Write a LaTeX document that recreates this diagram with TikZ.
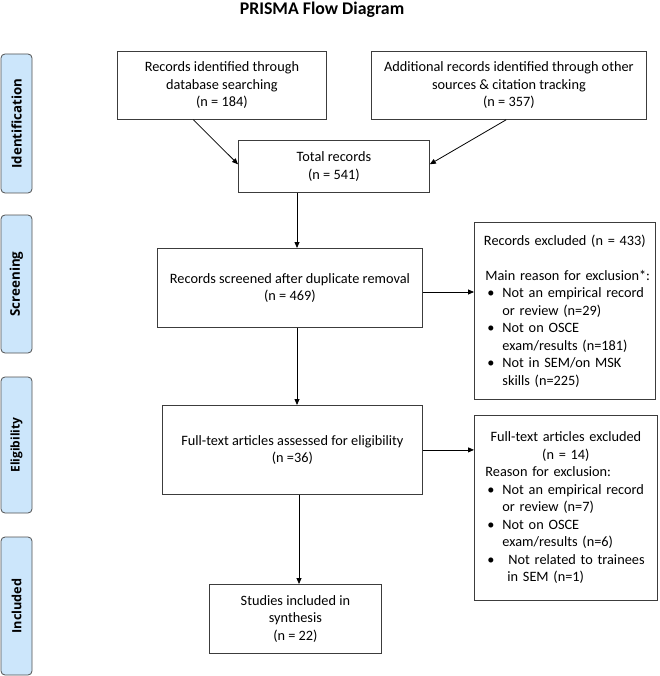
\documentclass[tikz,border=0pt]{standalone}
\usepackage{fontspec}
\setmainfont{Carlito}
\newfontfamily\labfont{Open Sans}
\usetikzlibrary{arrows.meta,calc}
\setlength\parindent{0pt}
\setlength\parskip{0pt}
\definecolor{barfill}{RGB}{204,230,251}
\definecolor{barline}{RGB}{80,80,80}
\definecolor{boxline}{RGB}{60,60,60}
\newcommand\bul{\makebox[17pt][l]{\hspace{2pt}•}}
\newcommand\bulx{\makebox[23pt][l]{\hspace{2pt}•}}
\newcommand\ind{\hspace*{17pt}}
\newcommand\phaselab[2]{\resizebox{#1pt}{!}{\labfont\bfseries\fontsize{13}{15}\selectfont #2}}
\begin{document}
\begin{tikzpicture}[x=1pt,y=-1pt,
  box/.style={draw=boxline, line width=0.8pt, align=center, inner sep=0pt, anchor=north west,
    font=\fontsize{14.3}{17.4}\selectfont},
  exbox/.style={draw=boxline, line width=0.8pt, align=left, inner xsep=3pt, inner ysep=0pt, anchor=north west,
    font=\fontsize{14.3}{17.5}\selectfont},
  phase/.style={draw=barline, fill=barfill, rounded corners=4pt, line width=0.8pt, rotate=90,
    minimum height=31pt, inner sep=0pt},
  arr/.style={-{Triangle[length=6pt,width=5pt]}, line width=0.8pt, black}
]
\useasboundingbox (0,0) rectangle (659,676);

\node[font=\bfseries\fontsize{17.8}{20}\selectfont, anchor=base] (title) at (322,14.5) {PRISMA Flow Diagram};

% phase bars
\node[phase, minimum width=139pt] (pid) at (16.5,123.5) {\phaselab{90}{Identification}};
\node[phase, minimum width=138pt] (psc) at (16.5,284) {\phaselab{65}{Screening}};
\node[phase, minimum width=136pt] (pel) at (16.5,445) {\phaselab{55}{Eligibility}};
\node[phase, minimum width=138pt] (pin) at (16.5,606) {\phaselab{55}{Included}};

% boxes
\node[box, minimum width=209pt, minimum height=68pt] (b1) at (117,51)
  {Records identified through\\database searching\\(n = 184)};
\node[box, minimum width=275pt, minimum height=68pt] (b2) at (371,51)
  {Additional records identified through other\\sources \& citation tracking\\(n = 357)};
\node[box, minimum width=191pt, minimum height=52pt] (tot) at (238,140)
  {Total records\\(n = 541)};
\node[box, minimum width=265pt, minimum height=79pt] (scr) at (157,248)
  {Records screened after duplicate removal\\(n = 469)};
\node[box, minimum width=260pt, minimum height=89pt] (ft) at (162,405)
  {Full-text articles assessed for eligibility\\(n =36)};
\node[box, minimum width=172pt, minimum height=69pt] (inc) at (209,584)
  {Studies included in\\synthesis\\(n = 22)};

\node[exbox, text width=175pt, minimum height=177pt] (ex1) at (474,222) {%
  \centering\mbox{Records excluded (n = 433)}\par
  \raggedright\leftskip=8pt\mbox{}\par
  \mbox{Main reason for exclusion*:}\par
  \mbox{\bul Not an empirical record}\par
  \mbox{\ind or review (n=29)}\par
  \mbox{\bul Not on OSCE}\par
  \mbox{\ind exam/results (n=181)}\par
  \mbox{\bul Not in SEM/on MSK}\par
  \mbox{\ind skills (n=225)}\par\vspace*{5.5pt}};

\node[exbox, text width=177pt, minimum height=185pt] (ex2) at (474,415) {%
  \centering\mbox{Full-text articles excluded}\par
  \mbox{(n = 14)}\par
  \raggedright\leftskip=8pt \mbox{Reason for exclusion:}\par
  \mbox{\bul Not an empirical record}\par
  \mbox{\ind or review (n=7)}\par
  \mbox{\bul Not on OSCE}\par
  \mbox{\ind exam/results (n=6)}\par
  \mbox{\bulx Not related to trainees}\par
  \mbox{\hspace*{22pt}in SEM (n=1)}\par};

% connectors
\coordinate (vx) at (297,0);
\coordinate (vx2) at (299,0);
\coordinate (hy1) at (0,292);
\draw[arr] ($(b1.south west)!0.364!(b1.south east)$) -- ($(tot.north west)!0.46!(tot.south west)$);
\draw[arr] ($(b2.south west)!0.49!(b2.south east)$) -- ($(tot.north east)!0.46!(tot.south east)$);
\draw[arr] (tot.south -| vx) -- (scr.north -| vx);
\draw[arr] (scr.east |- hy1) -- (ex1.west |- hy1);
\draw[arr] (scr.south -| vx) -- (ft.north -| vx);
\draw[arr] (ft.east) -- (ex2.west |- ft.east);
\draw[arr] (ft.south -| vx2) -- (inc.north -| vx2);
\end{tikzpicture}
\end{document}
